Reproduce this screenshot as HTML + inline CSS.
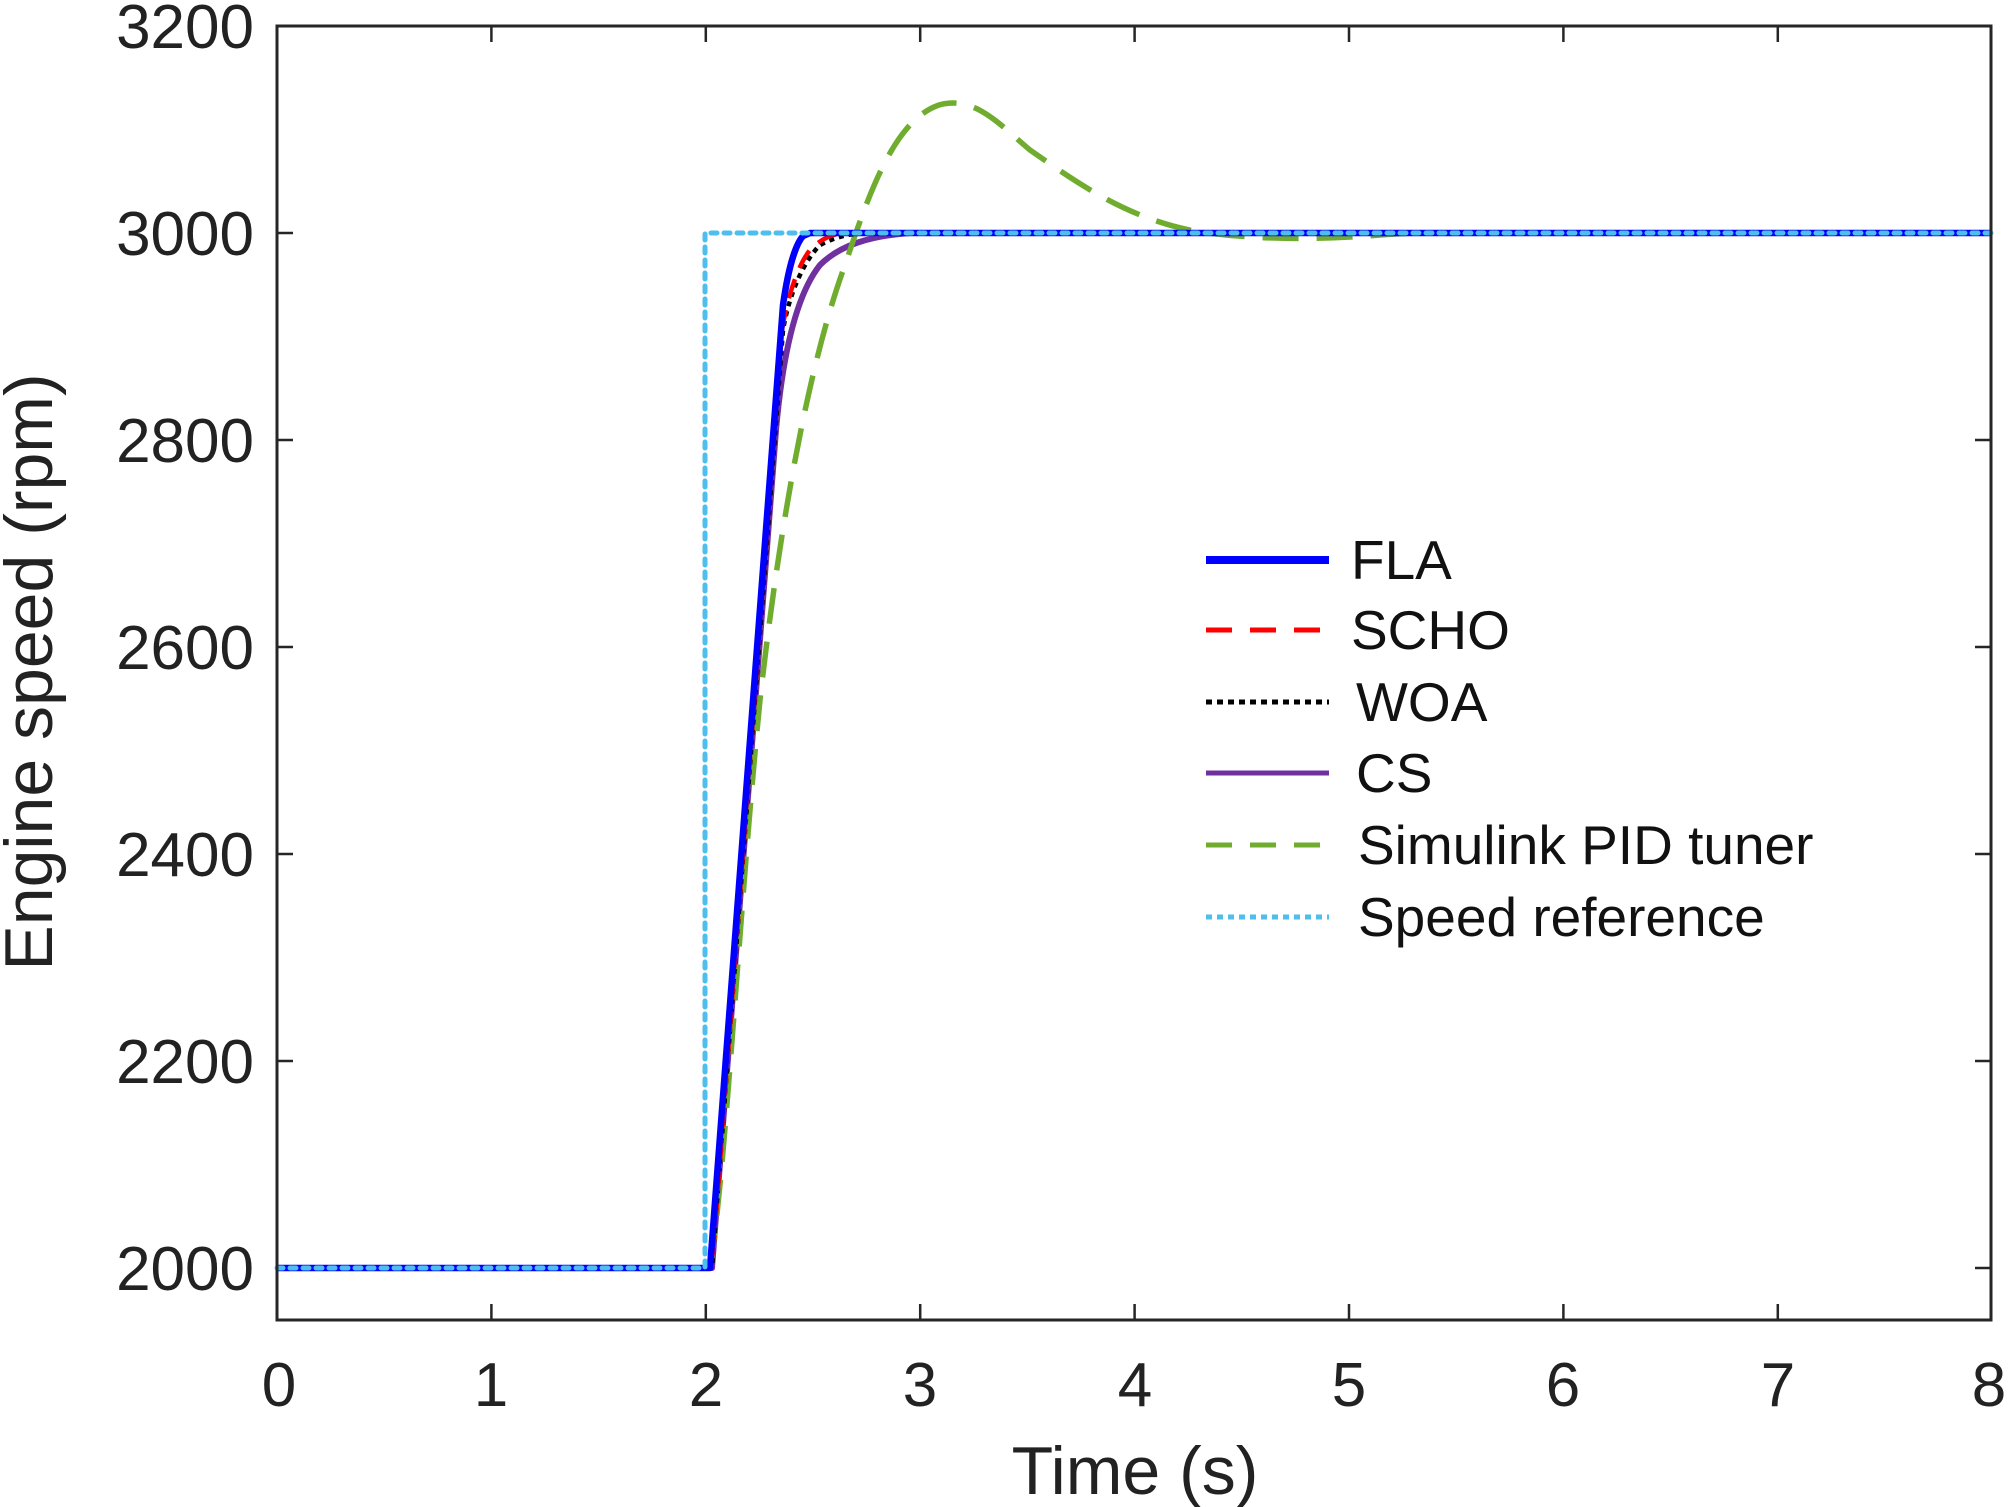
<!DOCTYPE html>
<html><head><meta charset="utf-8"><style>html,body{margin:0;padding:0;background:#fff}svg{display:block}</style></head>
<body>
<svg width="2008" height="1507" viewBox="0 0 2008 1507" xmlns="http://www.w3.org/2000/svg" font-family="Liberation Sans, Arial, sans-serif" fill="#222">
<rect x="0" y="0" width="2008" height="1507" fill="#fff"/>
<g stroke="#262626" stroke-width="2.5" fill="none">
<path d="M491.4,1320v-16M705.8,1320v-16M920.2,1320v-16M1134.6,1320v-16M1349,1320v-16M1563.4,1320v-16M1777.8,1320v-16
M491.4,26v16M705.8,26v16M920.2,26v16M1134.6,26v16M1349,26v16M1563.4,26v16M1777.8,26v16
M277,1268h16M277,1061h16M277,854h16M277,647h16M277,440h16M277,233h16
M1991,1268h-16M1991,1061h-16M1991,854h-16M1991,647h-16M1991,440h-16M1991,233h-16"/>
</g>
<g font-size="62" text-anchor="end">
<text x="254" y="48">3200</text>
<text x="254" y="255">3000</text>
<text x="254" y="462">2800</text>
<text x="254" y="669">2600</text>
<text x="254" y="876">2400</text>
<text x="254" y="1083">2200</text>
<text x="254" y="1290">2000</text>
</g>
<g font-size="62" text-anchor="middle">
<text x="279" y="1406">0</text>
<text x="491" y="1406">1</text>
<text x="706" y="1406">2</text>
<text x="920" y="1406">3</text>
<text x="1135" y="1406">4</text>
<text x="1349" y="1406">5</text>
<text x="1563" y="1406">6</text>
<text x="1778" y="1406">7</text>
<text x="1989" y="1406">8</text>
</g>
<text x="1135" y="1494" font-size="68" text-anchor="middle">Time (s)</text>
<text transform="translate(52,672) rotate(-90)" font-size="68" text-anchor="middle">Engine speed (rpm)</text>

<g fill="none" stroke-linejoin="round">
<path d="M277,1268H712L776,430C784,340 800,290 820,265C840,245 870,236 910,233H1991" stroke="#7030a0" stroke-width="6"/>
<path d="M277,1268H710C725,1180 740,900 760,700C780,520 810,360 845,265C870,190 895,120 939,105C975,95 1000,125 1030,150C1080,185 1130,220 1200,232C1260,240 1320,240 1380,235C1420,232 1450,233 1500,233H1991" stroke="#70ad2f" stroke-width="5.5" stroke-dasharray="36,18"/>
<path d="M277,1268H712L783,330C790,290 805,260 820,245C835,237 848,234 865,233H1991" stroke="#000" stroke-width="4.5" stroke-dasharray="5,5"/>
<path d="M277,1268H712L782,330C788,295 798,265 810,250C820,240 830,234 845,233H1991" stroke="#f00" stroke-width="4.5" stroke-dasharray="20,12"/>
<path d="M277,1268H710L783,305C788,270 795,245 803,236L810,233H1991" stroke="#0000ff" stroke-width="6.5"/>
<path d="M277,1268H705V233H1991" stroke="#4dbeee" stroke-width="5" stroke-dasharray="6,7" stroke-linecap="round"/>
</g>

<rect x="277" y="26" width="1714" height="1294" fill="none" stroke="#262626" stroke-width="3"/>

<g fill="none">
<path d="M1206,560h123" stroke="#0000ff" stroke-width="8"/>
<path d="M1206,630h123" stroke="#f00" stroke-width="5" stroke-dasharray="26,18"/>
<path d="M1206,702h123" stroke="#000" stroke-width="5" stroke-dasharray="6,5"/>
<path d="M1206,773h123" stroke="#7030a0" stroke-width="5"/>
<path d="M1206,845h123" stroke="#70ad2f" stroke-width="5" stroke-dasharray="26,18"/>
<path d="M1206,917h123" stroke="#4dbeee" stroke-width="5" stroke-dasharray="6,5"/>
</g>
<g font-size="55" fill="#111">
<text x="1351" y="579">FLA</text>
<text x="1351" y="649">SCHO</text>
<text x="1356" y="721">WOA</text>
<text x="1356" y="792">CS</text>
<text x="1358" y="864">Simulink PID tuner</text>
<text x="1358" y="936">Speed reference</text>
</g>
</svg>
</body></html>
